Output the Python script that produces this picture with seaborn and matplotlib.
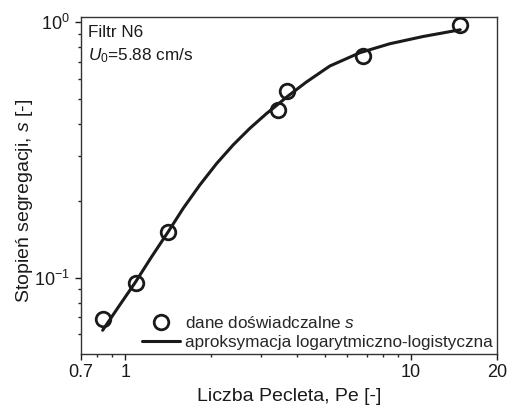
import matplotlib
matplotlib.use("Agg")
import matplotlib.pyplot as plt
import matplotlib.ticker as mticker
import seaborn as sns
import pandas as pd

# experimental data
pe_data = [0.836, 1.09, 1.41, 3.42, 3.69, 6.81, 14.9]
s_data = [0.069, 0.0955, 0.1515, 0.455, 0.541, 0.74, 0.977]

# approximation curve
pe_fit = [0.834, 0.951, 1.082, 1.236, 1.415, 1.597, 1.826, 2.089, 2.389, 2.733,
          3.127, 3.389, 3.674, 4.316, 5.206, 6.632, 8.44, 11.05, 14.9]
s_fit = [0.0623, 0.0774, 0.0955, 0.1206, 0.1515, 0.1872, 0.231, 0.280, 0.3315, 0.385,
         0.440, 0.473, 0.510, 0.585, 0.675, 0.761, 0.825, 0.881, 0.936]

x_ticks = [0.7, 1, 10, 20]
x_ticklabels = ["0.7", "1", "10", "20"]

sns.set_theme(style="ticks")
plt.rcParams['font.family'] = ['Liberation Sans', 'DejaVu Sans']
plt.rcParams['mathtext.fontset'] = 'custom'
plt.rcParams['mathtext.rm'] = 'Liberation Sans'
plt.rcParams['mathtext.it'] = 'Liberation Sans:italic'

fig = plt.figure(figsize=(5.09, 4.12), dpi=100)
ax = fig.add_axes([0.159, 0.1408, 0.817, 0.8179])

df_fit = pd.DataFrame({"Pe": pe_fit, "s": s_fit})
df_data = pd.DataFrame({"Pe": pe_data, "s": s_data})

sns.lineplot(data=df_fit, x="Pe", y="s", ax=ax, color="#1a1a1a", lw=2.2,
             sort=False, label="aproksymacja logarytmiczno-logistyczna", zorder=2)
ax.plot(df_data["Pe"], df_data["s"], linestyle="none", marker="o", ms=10.5,
        mfc="none", mec="#1a1a1a", mew=2.0, label="dane doświadczalne $s$", zorder=3)

ax.set_xscale("log")
ax.set_yscale("log")
ax.set_xlim(0.7, 20)
ax.set_ylim(0.0503, 1.05)

ax.xaxis.set_major_locator(mticker.FixedLocator(x_ticks))
ax.xaxis.set_major_formatter(mticker.FixedFormatter(x_ticklabels))
ax.xaxis.set_minor_locator(mticker.LogLocator(base=10, subs=range(2, 10)))
ax.xaxis.set_minor_formatter(mticker.NullFormatter())
ax.yaxis.set_major_locator(mticker.FixedLocator([0.1, 1.0]))
ax.yaxis.set_major_formatter(mticker.FixedFormatter([r"$10^{-1}$", r"$10^{0}$"]))
ax.yaxis.set_minor_locator(mticker.LogLocator(base=10, subs=range(2, 10)))
ax.yaxis.set_minor_formatter(mticker.NullFormatter())

ax.tick_params(which="major", direction="out", length=4.2, width=1.0, labelsize=13,
               colors="#1a1a1a", pad=4)
ax.tick_params(which="minor", direction="out", length=2.5, width=1.0)
ax.tick_params(axis="x", which="major", pad=3)
for sp in ax.spines.values():
    sp.set_visible(True)
    sp.set_linewidth(1.0)
    sp.set_color("#333333")

ax.set_xlabel("Liczba Pecleta, Pe [-]", fontsize=14, color="#1a1a1a", labelpad=5)
ax.set_ylabel("Stopień segregacji, $s$ [-]", fontsize=14, color="#1a1a1a")
ax.yaxis.set_label_coords(-0.110, 0.455)

ax.text(0.018, 0.975, "Filtr N6", transform=ax.transAxes, fontsize=12.3,
        va="top", ha="left", color="#1a1a1a")
ax.text(0.018, 0.912, "$U_0$=5.88 cm/s", transform=ax.transAxes, fontsize=12.3,
        va="top", ha="left", color="#1a1a1a")

h, l = ax.get_legend_handles_labels()
order = [1, 0]
leg = ax.legend([h[i] for i in order], [l[i] for i in order], loc="lower right",
                frameon=False, fontsize=12.3, handlelength=2.2, handletextpad=0.3,
                borderaxespad=0.1, borderpad=0.15, labelspacing=0.22)

fig.savefig("out.png", dpi=100)
